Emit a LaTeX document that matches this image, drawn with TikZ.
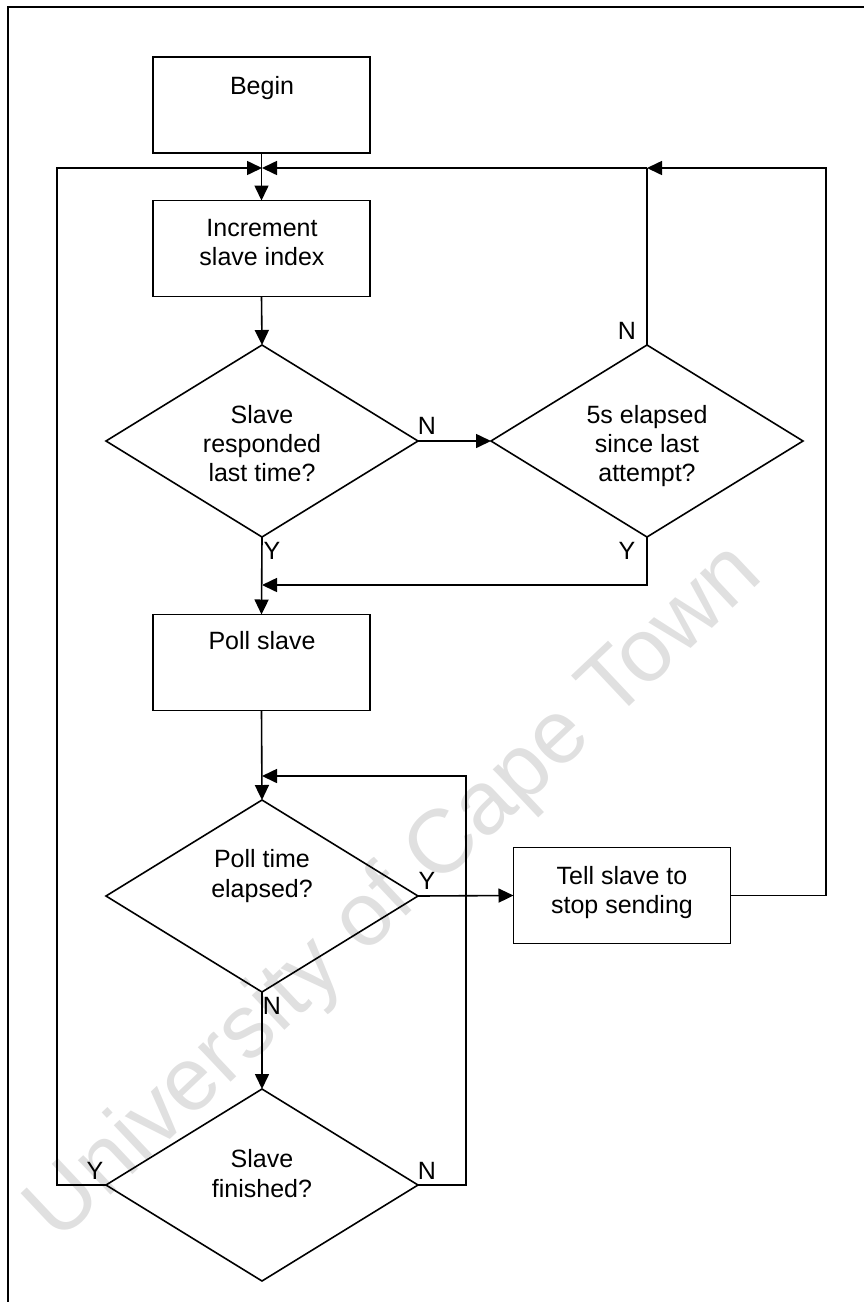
\documentclass[tikz,border=0pt]{standalone}
\usepackage{fontspec}
\setmainfont{Liberation Sans}
\usetikzlibrary{arrows.meta,shapes.geometric}
\begin{document}
\begin{tikzpicture}[x=1pt,y=-1pt,
  line width=1.6pt,
  arr/.style={-{Triangle[length=15pt,width=14pt]}},
  box/.style={draw, rectangle, minimum width=217pt, minimum height=96pt, inner sep=0pt, outer sep=0pt},
  dec/.style={draw, diamond, minimum width=312pt, minimum height=192pt, inner sep=0pt, outer sep=0pt},
  txt/.style={anchor=base, inner sep=0pt, font=\fontsize{25}{30}\selectfont},
  wm/.style={anchor=base, inner sep=0pt, text=black!12, font=\fontsize{90}{90}\selectfont}]
\useasboundingbox (0,0) rectangle (864,1302);

% watermark
\node[wm, rotate=43.3] (wmark) at (412,911) {University of Cape Town};

% page frame
\draw[line width=2pt] (8,1302) -- (8,7) -- (864,7);

% process boxes
\node[box] (begin) at (261.5,105) {};
\node[box] (inc)   at (261.5,248.5) {};
\node[box] (poll)  at (261.5,662.5) {};
\node[box] (tell)  at (622,895.5) {};

% decisions
\node[dec] (d1) at (262,441) {};
\node[dec] (d2) at (647,441) {};
\node[dec] (d3) at (262,896) {};
\node[dec] (d4) at (262,1185) {};

% texts
\node[txt] (tbegin) at (262,94) {Begin};
\node[txt] (tinc1) at (262,236) {Increment};
\node[txt] (tinc2) at (262,265) {slave index};
\node[txt] (td1a) at (262,423) {Slave};
\node[txt] (td1b) at (262,452) {responded};
\node[txt] (td1c) at (262,481) {last time?};
\node[txt] (td2a) at (647,423) {5s elapsed};
\node[txt] (td2b) at (647,452) {since last};
\node[txt] (td2c) at (647,481) {attempt?};
\node[txt] (tpoll) at (262,649) {Poll slave};
\node[txt] (td3a) at (262,867) {Poll time};
\node[txt] (td3b) at (262,897) {elapsed?};
\node[txt] (ttell1) at (622,884) {Tell slave to};
\node[txt] (ttell2) at (622,913) {stop sending};
\node[txt] (td4a) at (262,1167) {Slave};
\node[txt] (td4b) at (262,1197) {finished?};

% branch labels
\node[txt] (n1) at (427,434) {N};
\node[txt] (n2) at (627,339) {N};
\node[txt] (y1) at (272,559) {Y};
\node[txt] (y2) at (627,559) {Y};
\node[txt] (y3) at (427,889) {Y};
\node[txt] (n3) at (272,1014) {N};
\node[txt] (y4) at (95,1179) {Y};
\node[txt] (n4) at (427,1179) {N};

% route points
\coordinate (j1) at (262,168);
\coordinate (j2) at (647,168);
\coordinate (rtop) at (826,168);
\coordinate (ltop) at (57,168);
\coordinate (lbot) at (57,1185);
\coordinate (j3) at (262,585);
\coordinate (c2) at (647,585);
\coordinate (j4) at (262,776);
\coordinate (rl) at (466,776);
\coordinate (rb) at (466,1185);

% connectors
\draw[arr] (begin.south) -- (inc.north);
\draw[arr] (d4.west) -- (lbot) -- (ltop) -- (j1);
\draw[arr] (tell.east) -| (rtop) -- (j2);
\draw[arr] (j2) -- (j1);
\draw (d2.north) -- (j2);
\draw[arr] (inc.south) -- (d1.north);
\draw[arr] (d1.east) -- (d2.west);
\draw[arr] (d1.south) -- (poll.north);
\draw[arr] (d2.south) -- (c2) -- (j3);
\draw[arr] (poll.south) -- (d3.north);
\draw[arr] (d3.east) -- (tell.west);
\draw[arr] (d3.south) -- (d4.north);
\draw[arr] (d4.east) -- (rb) -- (rl) -- (j4);
\end{tikzpicture}
\end{document}
